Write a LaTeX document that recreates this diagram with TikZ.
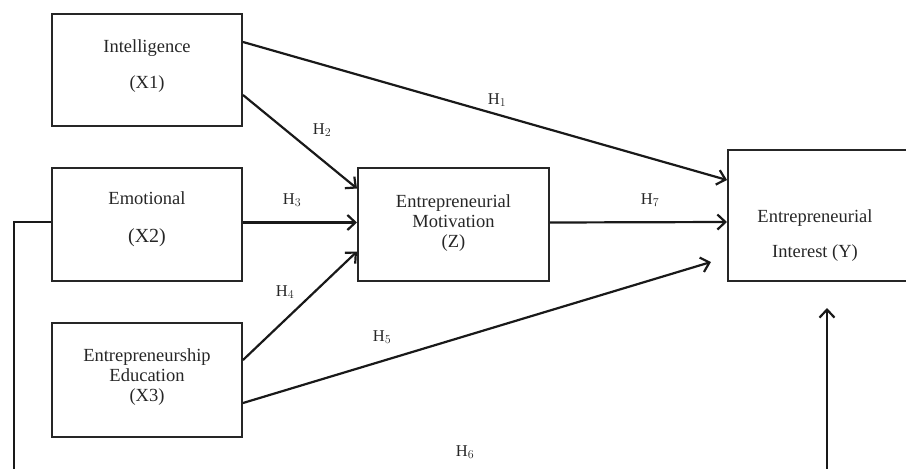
\documentclass[tikz,border=0pt]{standalone}
\usepackage{fontspec}
\setmainfont{Liberation Serif}
\usetikzlibrary{arrows.meta}
\begin{document}
\begin{tikzpicture}[x=1pt,y=-1pt,
  box/.style={draw=black!85,line width=2pt,inner sep=0pt},
  lbl/.style={font=\fontsize{18.5}{20}\selectfont,text=black!85,inner sep=0pt,align=center},
  hyp/.style={font=\fontsize{16.5}{17}\selectfont,text=black!85,inner sep=0pt},
  arr/.style={draw=black!90,line width=2.2pt,-{Straight Barb[length=8pt,width=15pt,line width=2.2pt]}}]
\useasboundingbox (0,0) rectangle (906,469);
% boxes
\node[box,minimum width=190pt,minimum height=112pt] (X1) at (147,70) {};
\node[box,minimum width=190pt,minimum height=113pt] (X2) at (147,224.5) {};
\node[box,minimum width=190pt,minimum height=114pt] (X3) at (147,380) {};
\node[box,minimum width=191pt,minimum height=113pt] (Z) at (453.5,224.5) {};
\node[box,minimum width=180pt,minimum height=131pt] (Y) at (818,215.5) {};
% texts
\node[lbl] (t1a) at (147,48) {Intelligence};
\node[lbl] (t1b) at (147,84) {(X1)};
\node[lbl] (t2a) at (147,198) {Emotional};
\node[lbl] (t2b) at (147,238) {\fontsize{20}{22}\selectfont(X2)};
\node[lbl] (t3) at (147,377) {Entrepreneurship\\Education\\(X3)};
\node[lbl] (tz) at (453.5,223) {Entrepreneurial\\Motivation\\(Z)};
\node[lbl] (tya) at (815,218) {Entrepreneurial};
\node[lbl] (tyb) at (815,253) {Interest (Y)};
% coordinates for the H6 path
\coordinate (c1) at (14,222);
\coordinate (c2) at (14,476);
\coordinate (c3) at (827,476);
\coordinate (c4) at (827,308);
% arrows
\draw[arr] ([yshift=28pt]X1.east) -- ([yshift=35.5pt]Y.west);
\draw[arr] ([yshift=-25pt]X1.east) -- ([yshift=36pt]Z.west);
\draw[arr] ([yshift=2pt]X2.east) -- ([yshift=2pt]Z.west);
\draw[arr] ([yshift=20pt]X3.east) -- ([yshift=-27pt]Z.west);
\draw[arr] ([yshift=-23pt]X3.east) -- ([xshift=-16pt,yshift=-46.5pt]Y.west);
\draw[arr] ([yshift=2pt]Z.east) -- ([yshift=-6.5pt]Y.west);
\draw[arr] ([yshift=2.5pt]X2.west) -- (c1) -- (c2) -- (c3) -- (c4);
% hypothesis labels
\node[hyp] (h1) at (497,100) {H$_1$};
\node[hyp] (h2) at (322,130) {H$_2$};
\node[hyp] (h3) at (292,200) {H$_3$};
\node[hyp] (h4) at (285,292) {H$_4$};
\node[hyp] (h5) at (382,337) {H$_5$};
\node[hyp] (h6) at (465,452) {H$_6$};
\node[hyp] (h7) at (650,200) {H$_7$};
\end{tikzpicture}
\end{document}
